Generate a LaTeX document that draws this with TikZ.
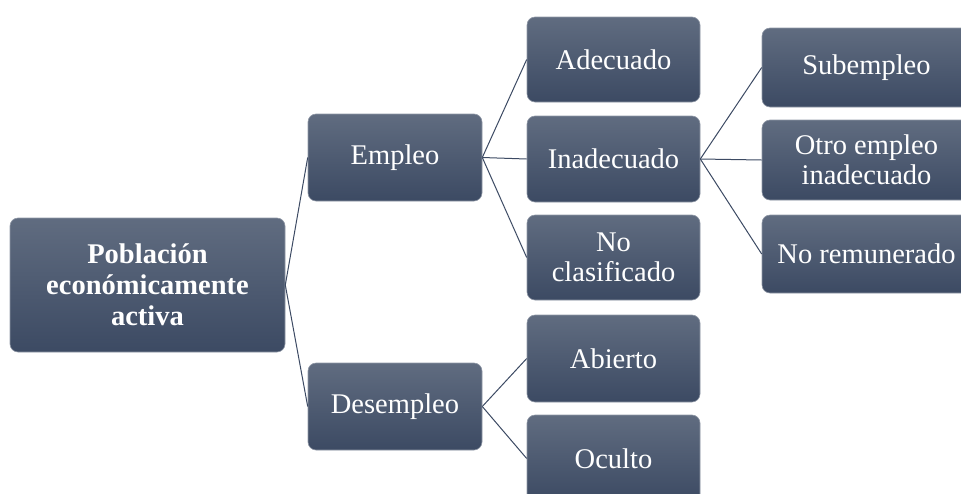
\documentclass[tikz,border=0pt]{standalone}
\usepackage{fontspec}
\setmainfont{Liberation Serif}
\definecolor{boxtop}{HTML}{606C80}
\definecolor{boxbot}{HTML}{3C4A63}
\definecolor{linec}{HTML}{3C4A63}
\begin{document}
\begin{tikzpicture}[x=1pt,y=-1pt,
  box/.style={rectangle, rounded corners=8pt, top color=boxtop, bottom color=boxbot,
    draw=boxtop!70!white, line width=0.6pt, text=white, align=center, inner sep=0pt,
    font=\fontsize{28.5}{30}\selectfont},
  link/.style={draw=linec, line width=1pt}]
\useasboundingbox (0,0) rectangle (961,493);
\clip (0,0) rectangle (961,493);
\node[box, minimum width=275pt, minimum height=134pt, font=\fontsize{28.5}{31}\selectfont\bfseries] (root) at (147.5,285) {Población\\económicamente\\activa};
\node[box, minimum width=174pt, minimum height=87pt] (emp) at (395,157.5) {Empleo};
\node[box, minimum width=174pt, minimum height=87pt] (des) at (395,406.5) {Desempleo};
\node[box, minimum width=173pt, minimum height=85pt] (ade) at (613.5,59.5) {Adecuado};
\node[box, minimum width=173pt, minimum height=86pt] (ina) at (613.5,159) {Inadecuado};
\node[box, minimum width=173pt, minimum height=85pt] (nocl) at (613.5,257.5) {No\\clasificado};
\node[box, minimum width=173pt, minimum height=87pt] (abi) at (613.5,358.5) {Abierto};
\node[box, minimum width=173pt, minimum height=87pt] (ocu) at (613.5,458.5) {Oculto};
\node[box, minimum width=209pt, minimum height=79pt] (sub) at (866.5,67.5) {Subempleo};
\node[box, minimum width=209pt, minimum height=80pt] (otro) at (866.5,160) {Otro empleo\\inadecuado};
\node[box, minimum width=209pt, minimum height=78pt] (norem) at (866.5,254) {No remunerado};
\draw[link] (root.east) -- (emp.west);
\draw[link] (root.east) -- (des.west);
\draw[link] (emp.east) -- (ade.west);
\draw[link] (emp.east) -- (ina.west);
\draw[link] (emp.east) -- (nocl.west);
\draw[link] (des.east) -- (abi.west);
\draw[link] (des.east) -- (ocu.west);
\draw[link] (ina.east) -- (sub.west);
\draw[link] (ina.east) -- (otro.west);
\draw[link] (ina.east) -- (norem.west);
\end{tikzpicture}
\end{document}
